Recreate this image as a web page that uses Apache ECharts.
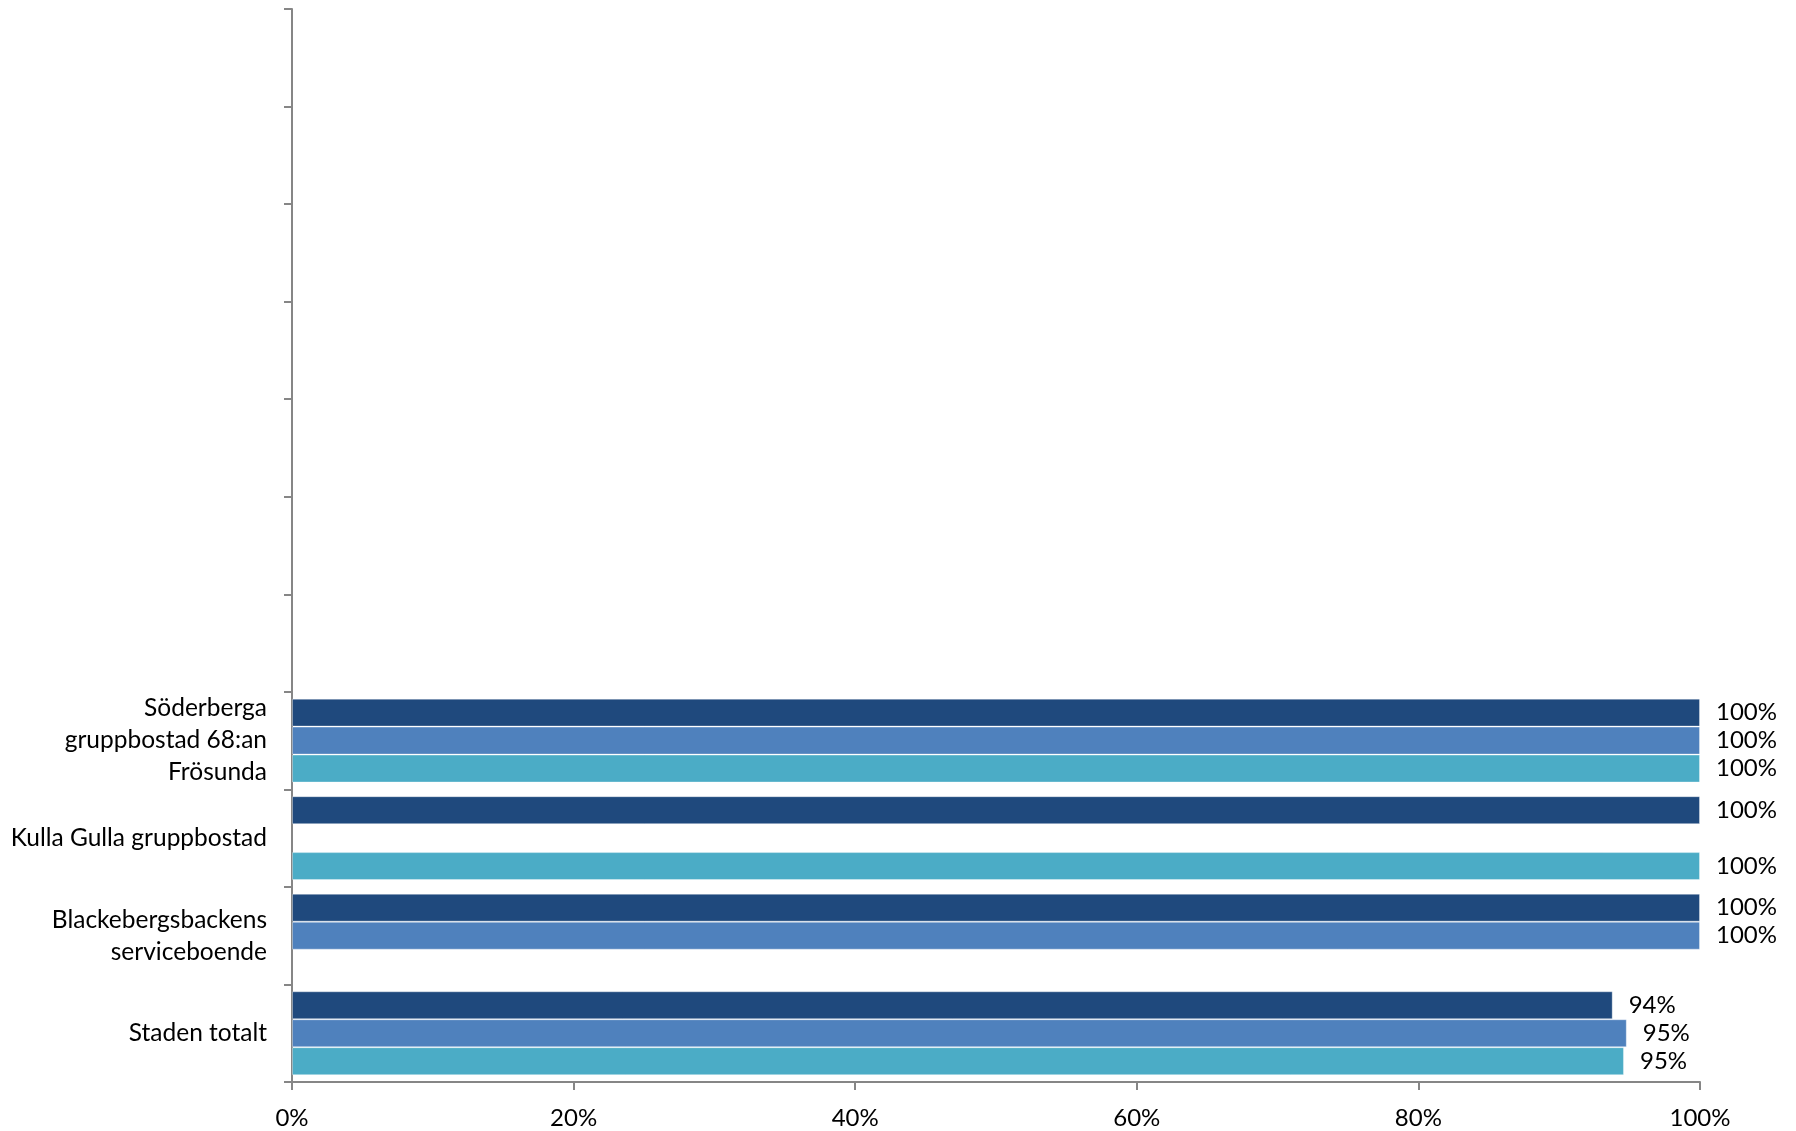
<!DOCTYPE html>
<html><head><meta charset="utf-8">
<script src="https://cdn.jsdelivr.net/npm/echarts@6/dist/echarts.min.js"></script>
<style>html,body{margin:0;padding:0;background:#fff}#c{width:1796px;height:1131px}</style>
</head><body><div id="c"></div>
<script>
// categories top to bottom (7 empty slots at top)
const categories = [' ', '  ', '   ', '    ', '     ', '      ', '       ',
  'Söderberga\ngruppbostad 68:an\nFrösunda',
  'Kulla Gulla gruppbostad',
  'Blackebergsbackens\nserviceboende',
  'Staden totalt'];
const seriesA = [null, null, null, null, null, null, null, 100, 100, 100, 93.8];
const seriesB = [null, null, null, null, null, null, null, 100, null, 100, 94.8];
const seriesC = [null, null, null, null, null, null, null, 100, 100, null, 94.6];
const xTicks = [0, 20, 40, 60, 80, 100];
const colors = ['#1F497D', '#4F81BD', '#4BACC6'];

const font = 'Lato, "Open Sans", sans-serif';
function mk(name, data, color) {
  return {
    name, type: 'bar', data, barGap: '0%', barCategoryGap: '14%',
    itemStyle: { color, borderColor: 'rgba(255,255,255,0.35)', borderWidth: 1 },
    label: { show: true, position: 'right', distance: 16, color: '#000', fontSize: 24, fontFamily: font,
      formatter: p => (p.value == null ? '' : Math.round(p.value) + '%') },
    animation: false
  };
}
const chart = echarts.init(document.getElementById('c'));
chart.setOption({
  animation: false,
  grid: { left: 292, right: 96, top: 9, bottom: 49 },
  xAxis: {
    type: 'value', min: xTicks[0], max: xTicks[xTicks.length - 1], interval: 20,
    axisLine: { show: true, lineStyle: { color: '#868686', width: 2 } },
    axisTick: { show: true, length: 8, lineStyle: { color: '#868686', width: 2 } },
    splitLine: { show: false },
    axisLabel: { formatter: '{value}%', color: '#000', fontSize: 24, fontFamily: font, margin: 24 }
  },
  yAxis: {
    type: 'category', inverse: true, data: categories,
    axisLine: { show: true, lineStyle: { color: '#868686', width: 2 } },
    axisTick: { show: true, length: 8, lineStyle: { color: '#868686', width: 2 } },
    axisLabel: { color: '#000', fontSize: 24.5, fontFamily: font, margin: 25, lineHeight: 32, align: 'right', interval: 0 }
  },
  series: [mk('A', seriesA, colors[0]), mk('B', seriesB, colors[1]), mk('C', seriesC, colors[2])]
});
</script></body></html>
